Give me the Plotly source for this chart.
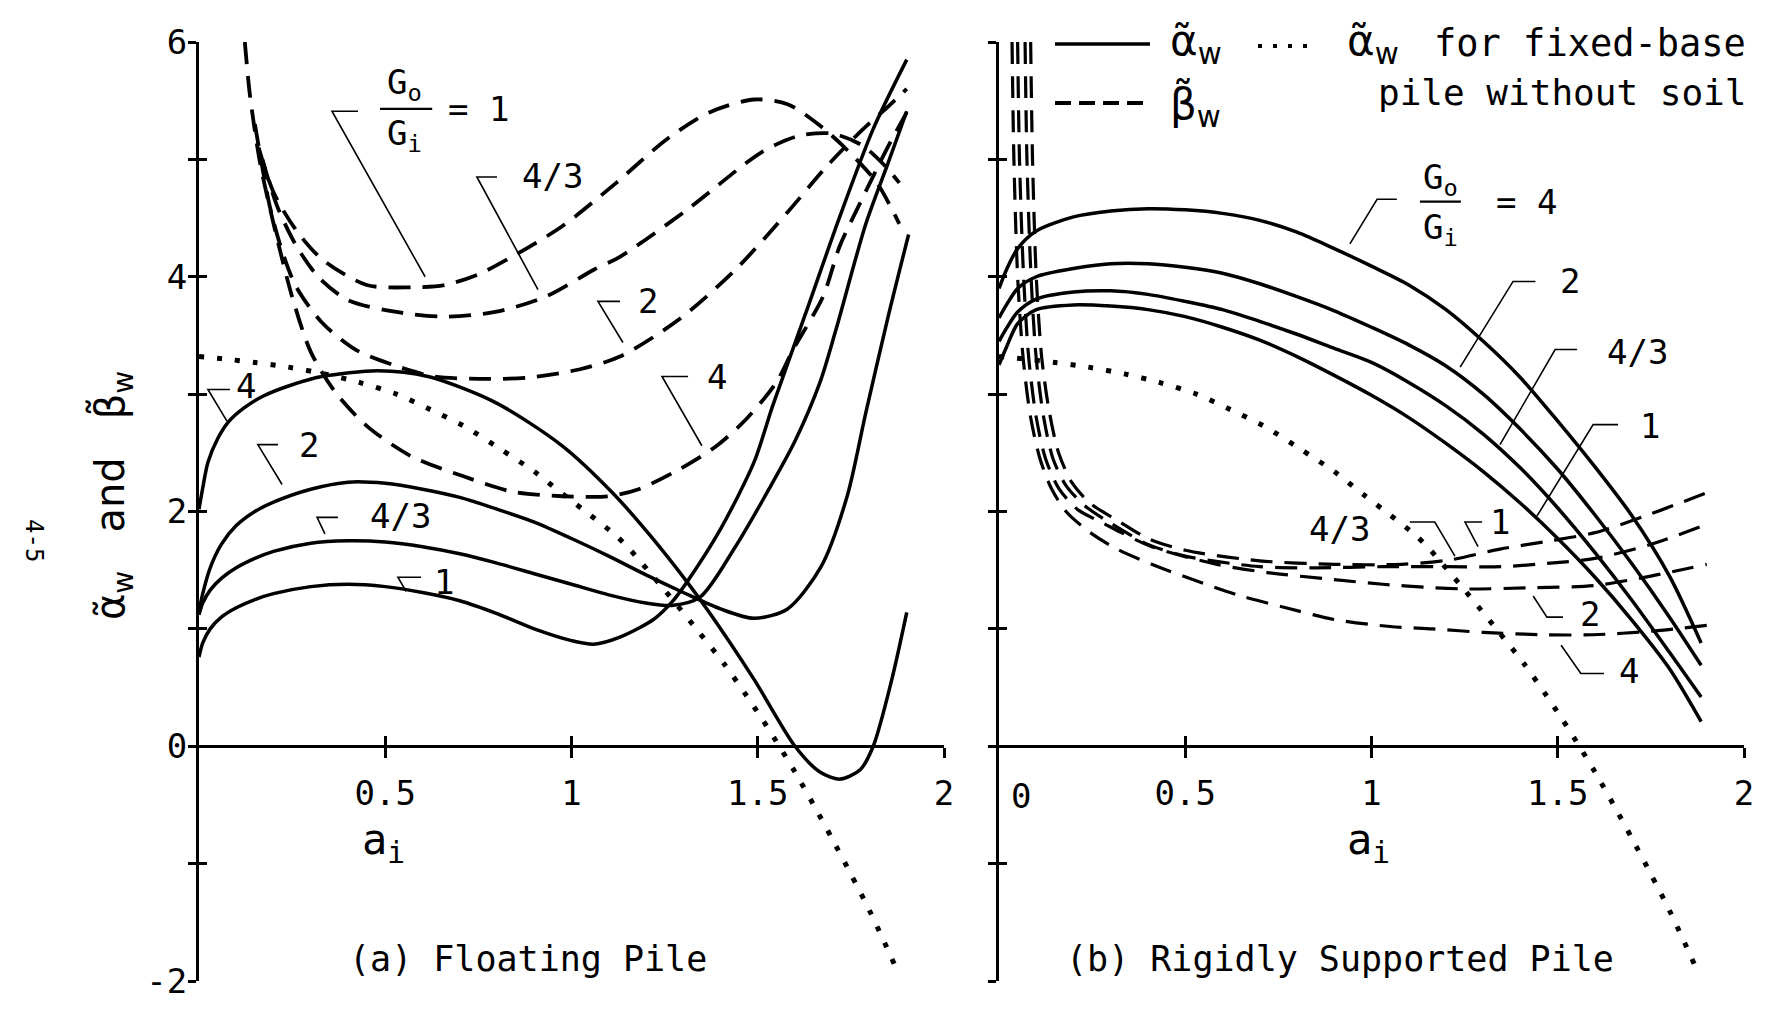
import plotly.graph_objects as go

# ---------------- data ----------------
# (a) Floating pile: stiffness alpha_w for G0/Gi = 1, 4/3, 2, 4
fa1_x = [0, 0.01, 0.03, 0.06, 0.1, 0.15, 0.2, 0.3, 0.4, 0.5, 0.6, 0.7, 0.8, 0.9, 1.0, 1.06, 1.13, 1.22, 1.27, 1.31, 1.40, 1.49, 1.54, 1.63, 1.72, 1.81, 1.90]
fa1_y = [0.76, 0.88, 1.0, 1.1, 1.18, 1.25, 1.30, 1.36, 1.38, 1.36, 1.31, 1.24, 1.13, 1.0, 0.90, 0.87, 0.93, 1.08, 1.23, 1.40, 1.85, 2.42, 2.90, 3.70, 4.51, 5.26, 5.85]
fa43_x = [0, 0.01, 0.03, 0.06, 0.1, 0.15, 0.2, 0.3, 0.4, 0.5, 0.6, 0.7, 0.8, 0.9, 1.0, 1.1, 1.2, 1.27, 1.345, 1.44, 1.53, 1.60, 1.667, 1.71, 1.79, 1.85, 1.90]
fa43_y = [1.12, 1.22, 1.33, 1.43, 1.52, 1.60, 1.66, 1.73, 1.75, 1.74, 1.70, 1.64, 1.56, 1.47, 1.38, 1.29, 1.22, 1.20, 1.27, 1.70, 2.19, 2.60, 3.10, 3.55, 4.45, 4.97, 5.41]
fa2_x = [0, 0.01, 0.03, 0.06, 0.1, 0.15, 0.2, 0.3, 0.4, 0.5, 0.6, 0.7, 0.8, 0.9, 1.0, 1.1, 1.2, 1.3, 1.4, 1.49, 1.58, 1.67, 1.74, 1.79, 1.85, 1.905]
fa2_y = [1.15, 1.30, 1.52, 1.72, 1.88, 2.00, 2.08, 2.19, 2.25, 2.24, 2.19, 2.12, 2.02, 1.91, 1.77, 1.62, 1.46, 1.31, 1.17, 1.09, 1.17, 1.53, 2.13, 2.84, 3.66, 4.36]
fa4_x = [0, 0.01, 0.024, 0.05, 0.078, 0.12, 0.17, 0.25, 0.33, 0.48, 0.615, 0.795, 0.975, 1.11, 1.21, 1.31, 1.37, 1.49, 1.60, 1.667, 1.72, 1.775, 1.81, 1.86, 1.90]
fa4_y = [2.02, 2.20, 2.42, 2.62, 2.76, 2.88, 2.98, 3.08, 3.15, 3.20, 3.15, 2.93, 2.56, 2.16, 1.80, 1.40, 1.14, 0.57, 0.0, -0.22, -0.28, -0.20, 0.0, 0.57, 1.14]

# (a) Floating pile: damping beta_w
fb1_x = [0.16, 0.2, 0.26, 0.33, 0.45, 0.57, 0.66, 0.75, 0.84, 0.975, 1.12, 1.255, 1.37, 1.49, 1.58, 1.67, 1.74, 1.82, 1.88]
fb1_y = [5.10, 4.72, 4.40, 4.15, 3.93, 3.91, 3.93, 4.02, 4.17, 4.43, 4.80, 5.17, 5.40, 5.51, 5.47, 5.28, 5.08, 4.80, 4.45]
fb43_x = [0.17, 0.21, 0.26, 0.32, 0.40, 0.53, 0.66, 0.795, 0.93, 1.06, 1.13, 1.31, 1.51, 1.61, 1.70, 1.78, 1.84, 1.88]
fb43_y = [5.00, 4.60, 4.27, 4.00, 3.80, 3.70, 3.66, 3.70, 3.83, 4.06, 4.17, 4.57, 5.06, 5.20, 5.22, 5.12, 4.95, 4.80]
fb2_x = [0.15, 0.19, 0.22, 0.26, 0.33, 0.42, 0.53, 0.63, 0.75, 0.88, 1.02, 1.13, 1.29, 1.44, 1.58, 1.685, 1.78, 1.85, 1.90]
fb2_y = [5.30, 4.60, 4.25, 3.92, 3.61, 3.38, 3.24, 3.15, 3.13, 3.14, 3.21, 3.32, 3.64, 4.06, 4.55, 4.94, 5.25, 5.45, 5.60]
fb4_x = [0.123, 0.137, 0.164, 0.204, 0.25, 0.30, 0.365, 0.45, 0.57, 0.71, 0.84, 0.975, 1.10, 1.18, 1.29, 1.39, 1.47, 1.55, 1.595, 1.675, 1.72, 1.775, 1.85, 1.90]
fb4_y = [6.0, 5.54, 4.97, 4.40, 3.83, 3.36, 3.02, 2.73, 2.47, 2.30, 2.17, 2.13, 2.13, 2.19, 2.36, 2.56, 2.79, 3.10, 3.38, 3.83, 4.26, 4.63, 5.11, 5.40]

# (b) Rigidly supported pile: stiffness alpha_w
r_ax = [0, 0.02, 0.05, 0.1, 0.2, 0.3, 0.4, 0.5, 0.6, 0.7, 0.8, 0.9, 1.0, 1.1, 1.2, 1.3, 1.4, 1.5, 1.6, 1.7, 1.8, 1.885]
ra1_y = [3.25, 3.40, 3.60, 3.72, 3.76, 3.75, 3.72, 3.66, 3.57, 3.46, 3.32, 3.16, 2.99, 2.80, 2.58, 2.34, 2.07, 1.77, 1.44, 1.07, 0.66, 0.21]
ra43_y = [3.45, 3.56, 3.70, 3.81, 3.87, 3.88, 3.85, 3.79, 3.72, 3.62, 3.51, 3.39, 3.27, 3.10, 2.90, 2.66, 2.37, 2.03, 1.65, 1.24, 0.80, 0.42]
ra2_y = [3.65, 3.76, 3.90, 4.00, 4.07, 4.11, 4.11, 4.08, 4.03, 3.94, 3.83, 3.71, 3.57, 3.42, 3.24, 3.00, 2.70, 2.36, 1.97, 1.55, 1.10, 0.69]
ra4_y = [3.90, 4.06, 4.24, 4.39, 4.51, 4.56, 4.58, 4.57, 4.54, 4.48, 4.38, 4.24, 4.09, 3.93, 3.72, 3.45, 3.14, 2.77, 2.38, 1.96, 1.45, 0.88]

# (b) Rigidly supported pile: damping beta_w
rb1_x = [0.085, 0.09, 0.10, 0.115, 0.135, 0.16, 0.195, 0.245, 0.32, 0.4, 0.5, 0.7, 0.9, 1.08, 1.215, 1.345, 1.48, 1.60, 1.75, 1.9]
rb1_y = [6.0, 5.0, 4.0, 3.3, 2.85, 2.5, 2.25, 2.07, 1.92, 1.77, 1.67, 1.58, 1.55, 1.55, 1.59, 1.68, 1.75, 1.82, 1.98, 2.16]
rb43_x = [0.07, 0.075, 0.086, 0.10, 0.12, 0.145, 0.18, 0.23, 0.3, 0.4, 0.5, 0.7, 0.85, 1.03, 1.2, 1.35, 1.48, 1.60, 1.75, 1.9]
rb43_y = [6.0, 5.0, 4.0, 3.3, 2.8, 2.45, 2.22, 2.05, 1.9, 1.72, 1.62, 1.53, 1.52, 1.53, 1.53, 1.53, 1.56, 1.60, 1.72, 1.89]
rb2_x = [0.05, 0.055, 0.066, 0.08, 0.10, 0.125, 0.16, 0.21, 0.28, 0.41, 0.585, 0.72, 0.90, 1.03, 1.17, 1.26, 1.43, 1.60, 1.75, 1.9]
rb2_y = [6.0, 5.0, 4.0, 3.3, 2.8, 2.45, 2.2, 2.02, 1.9, 1.70, 1.55, 1.48, 1.42, 1.38, 1.35, 1.34, 1.35, 1.37, 1.45, 1.55]
rb4_x = [0.035, 0.04, 0.05, 0.065, 0.085, 0.11, 0.14, 0.18, 0.245, 0.317, 0.41, 0.52, 0.65, 0.77, 0.90, 1.05, 1.165, 1.30, 1.46, 1.595, 1.75, 1.9]
rb4_y = [6.0, 5.0, 4.0, 3.3, 2.8, 2.45, 2.2, 2.0, 1.82, 1.68, 1.55, 1.42, 1.28, 1.18, 1.08, 1.02, 1.00, 0.97, 0.95, 0.95, 0.98, 1.03]

# alpha_w of the fixed-base pile without soil (same in both panels)
fixed_x = [0, 0.065, 0.15, 0.24, 0.34, 0.43, 0.53, 0.62, 0.71, 0.81, 0.90, 0.98, 1.05, 1.11, 1.15, 1.25, 1.33, 1.41, 1.47, 1.51, 1.55, 1.60, 1.65, 1.70, 1.75, 1.80, 1.84, 1.88]
fixed_y = [3.32, 3.30, 3.27, 3.23, 3.17, 3.10, 3.00, 2.87, 2.73, 2.53, 2.34, 2.14, 1.97, 1.82, 1.70, 1.33, 1.02, 0.70, 0.43, 0.24, 0.04, -0.22, -0.50, -0.79, -1.09, -1.40, -1.67, -1.95]

x_tickvals = [0.5, 1, 1.5, 2]
x_ticktext = ["0.5", "1", "1.5", "2"]
y_tickvals = [-2, -1, 0, 1, 2, 3, 4, 5, 6]
y_ticktext = ["-2", "", "0", "", "2", "", "4", "", "6"]

# ---------------- styling ----------------
W, H = 1769, 1012
FONT = "DejaVu Sans Mono"
GREEK = "DejaVu Sans"
INK = "black"
SOLID_W = 3.5
DASH = "22px,12px"
DOT = "5px,13px"

# plotting area in pixels
ya_top, ya_bot = 42, 981
xa_l0, xa_l1 = 199, 944
xb_l0, xb_l1 = 999, 1744
ydom = [(H - ya_bot) / H, (H - ya_top) / H]
xdom_a = [xa_l0 / W, xa_l1 / W]
xdom_b = [xb_l0 / W, xb_l1 / W]
yrange = [-2, 6]
xrange_ = [0, 2]
zero_pos = ydom[0] + (0 - yrange[0]) / (yrange[1] - yrange[0]) * (ydom[1] - ydom[0])

fig = go.Figure()


def curve(x, y, xa, ya, style, width=None):
    line = dict(color=INK, shape="spline", smoothing=0.8)
    if style == "solid":
        line.update(width=width or SOLID_W)
    elif style == "dash":
        line.update(width=width or 3.8, dash=DASH)
    else:
        line.update(width=width or 5, dash=DOT)
    fig.add_trace(go.Scatter(x=x, y=y, mode="lines", line=line, xaxis=xa, yaxis=ya,
                             showlegend=False, hoverinfo="skip"))


# panel (a)
for xs, ys in [(fa1_x, fa1_y), (fa43_x, fa43_y), (fa2_x, fa2_y), (fa4_x, fa4_y)]:
    curve(xs, ys, "x", "y", "solid")
for xs, ys in [(fb1_x, fb1_y), (fb43_x, fb43_y), (fb2_x, fb2_y), (fb4_x, fb4_y)]:
    curve(xs, ys, "x", "y", "dash")
curve(fixed_x, fixed_y, "x3", "y3", "dot")

# panel (b)
for ys in [ra1_y, ra43_y, ra2_y, ra4_y]:
    curve(r_ax, ys, "x2", "y2", "solid")
for xs, ys in [(rb1_x, rb1_y), (rb43_x, rb43_y), (rb2_x, rb2_y), (rb4_x, rb4_y)]:
    curve(xs, ys, "x2", "y2", "dash", width=3.2)
curve(fixed_x, fixed_y, "x4", "y4", "dot")

tickfont = dict(family=FONT, size=34, color=INK)


def xaxis_main(dom):
    return dict(domain=dom, range=xrange_, anchor="free", position=zero_pos, automargin=False,
                showline=True, linewidth=3, linecolor=INK, showgrid=False, zeroline=False,
                ticks="outside", ticklen=10, tickwidth=2.5, tickcolor=INK,
                tickvals=x_tickvals, ticktext=x_ticktext, tickfont=tickfont,
                ticklabelstandoff=6, fixedrange=True)


def xaxis_over(over):
    return dict(overlaying=over, range=xrange_, anchor="free", position=zero_pos, automargin=False,
                showline=False, showgrid=False, zeroline=False,
                ticks="inside", ticklen=10, tickwidth=2.5, tickcolor=INK,
                tickvals=x_tickvals, showticklabels=False, fixedrange=True)


def yaxis_main(anchor, labels):
    return dict(domain=ydom, range=yrange, anchor=anchor, automargin=False,
                showline=True, linewidth=3, linecolor=INK, showgrid=False, zeroline=False,
                ticks="outside", ticklen=8, tickwidth=2.5, tickcolor=INK,
                tickvals=y_tickvals, ticktext=y_ticktext, tickfont=tickfont,
                ticklabelstandoff=-6, showticklabels=labels, fixedrange=True)


def yaxis_over(over, anchor):
    return dict(overlaying=over, range=yrange, anchor=anchor, automargin=False,
                showline=False, showgrid=False, zeroline=False,
                ticks="inside", ticklen=8, tickwidth=2.5, tickcolor=INK,
                tickvals=y_tickvals, showticklabels=False, fixedrange=True)


fig.update_layout(
    width=W, height=H, autosize=False,
    margin=dict(l=0, r=0, t=0, b=0, pad=0, autoexpand=False),
    paper_bgcolor="white", plot_bgcolor="rgba(0,0,0,0)",
    showlegend=False,
    xaxis=xaxis_main(xdom_a), yaxis=yaxis_main("x", True),
    xaxis2=xaxis_main(xdom_b), yaxis2=yaxis_main("x2", False),
    xaxis3=xaxis_over("x"), yaxis3=yaxis_over("y", "x3"),
    xaxis4=xaxis_over("x2"), yaxis4=yaxis_over("y2", "x4"),
)

annotations = []
shapes = []


def text(t, x, y, xref, yref, size=34, family=FONT, **kw):
    d = dict(text=t, x=x, y=y, xref=xref, yref=yref, showarrow=False,
             font=dict(family=family, size=size, color=INK), xanchor="center", yanchor="middle")
    d.update(kw)
    annotations.append(d)


def leader(pts, xref, yref, width=1.6):
    path = "M " + " L ".join(f"{px},{py}" for px, py in pts)
    shapes.append(dict(type="path", path=path, xref=xref, yref=yref,
                       line=dict(color=INK, width=width)))


# curve labels, panel (a)
text("G<sub>o</sub>", 0.553, 5.64, "x", "y")
text("G<sub>i</sub>", 0.553, 5.20, "x", "y")
shapes.append(dict(type="line", x0=0.486, x1=0.626, y0=5.43, y1=5.43, xref="x", yref="y",
                   line=dict(color=INK, width=2.2)))
text("= 1", 0.749, 5.43, "x", "y")
leader([(0.427, 5.41), (0.357, 5.41), (0.607, 4.0)], "x", "y")
text("4/3", 0.948, 4.86, "x", "y")
leader([(0.80, 4.85), (0.746, 4.85), (0.91, 3.89)], "x", "y")
text("2", 1.205, 3.79, "x", "y")
leader([(1.13, 3.79), (1.071, 3.79), (1.138, 3.44)], "x", "y")
text("4", 1.39, 3.15, "x", "y")
leader([(1.313, 3.15), (1.243, 3.15), (1.35, 2.56)], "x", "y")
text("4", 0.126, 3.07, "x", "y")
leader([(0.083, 3.04), (0.024, 3.04), (0.075, 2.77)], "x", "y")
text("2", 0.295, 2.57, "x", "y")
leader([(0.212, 2.57), (0.158, 2.57), (0.223, 2.23)], "x", "y")
text("4/3", 0.542, 1.96, "x", "y")
leader([(0.373, 1.95), (0.317, 1.95), (0.338, 1.81)], "x", "y")
text("1", 0.657, 1.40, "x", "y")
leader([(0.596, 1.44), (0.534, 1.44), (0.556, 1.32)], "x", "y")

# curve labels, panel (b)
text("G<sub>o</sub>", 1.184, 4.83, "x2", "y2")
text("G<sub>i</sub>", 1.184, 4.40, "x2", "y2")
shapes.append(dict(type="line", x0=1.13, x1=1.24, y0=4.64, y1=4.64, xref="x2", yref="y2",
                   line=dict(color=INK, width=2.2)))
text("= 4", 1.417, 4.64, "x2", "y2")
leader([(1.068, 4.66), (1.015, 4.66), (0.942, 4.28)], "x2", "y2")
text("2", 1.533, 3.96, "x2", "y2")
leader([(1.44, 3.96), (1.38, 3.96), (1.238, 3.23)], "x2", "y2")
text("4/3", 1.713, 3.36, "x2", "y2")
leader([(1.552, 3.38), (1.493, 3.38), (1.345, 2.57)], "x2", "y2")
text("1", 1.748, 2.73, "x2", "y2")
leader([(1.662, 2.74), (1.595, 2.74), (1.444, 1.96)], "x2", "y2")
text("4/3", 0.915, 1.85, "x2", "y2")
leader([(1.103, 1.91), (1.17, 1.91), (1.224, 1.62)], "x2", "y2")
text("1", 1.345, 1.91, "x2", "y2")
leader([(1.297, 1.91), (1.251, 1.91), (1.286, 1.70)], "x2", "y2")
text("2", 1.587, 1.13, "x2", "y2")
leader([(1.434, 1.28), (1.471, 1.10), (1.514, 1.10)], "x2", "y2")
text("4", 1.69, 0.64, "x2", "y2")
leader([(1.509, 0.86), (1.562, 0.62), (1.624, 0.62)], "x2", "y2")

# "0" of the right-hand frequency axis sits just right of the vertical axis
text("0", 0.059, -0.42, "x2", "y2")

# axis titles and panel captions
text("a<sub>i</sub>", 383 / W, (H - 842) / H, "paper", "paper", size=42)
text("a<sub>i</sub>", 1368 / W, (H - 842) / H, "paper", "paper", size=42)
text("(a) Floating Pile", 528 / W, (H - 959) / H, "paper", "paper", size=35)
text("(b) Rigidly Supported Pile", 1340 / W, (H - 959) / H, "paper", "paper", size=35)
text("\u03b1\u0303<sub>w</sub>   and   \u03b2\u0303<sub>w</sub>", 113 / W, (H - 496) / H,
     "paper", "paper", size=40, family=GREEK, textangle=-90)
text("4-5", 34 / W, (H - 540) / H, "paper", "paper", size=24, textangle=90)

# key
shapes.append(dict(type="line", x0=1055 / W, x1=1150 / W, y0=(H - 44) / H, y1=(H - 44) / H,
                   xref="paper", yref="paper", line=dict(color=INK, width=SOLID_W)))
text("\u03b1\u0303<sub>w</sub>", 1168 / W, (H - 44) / H, "paper", "paper", size=42,
     family=GREEK, xanchor="left")
shapes.append(dict(type="line", x0=1055 / W, x1=1150 / W, y0=(H - 103) / H, y1=(H - 103) / H,
                   xref="paper", yref="paper", line=dict(color=INK, width=3.8, dash="16px,8px")))
text("\u03b2\u0303<sub>w</sub>", 1168 / W, (H - 106) / H, "paper", "paper", size=42,
     family=GREEK, xanchor="left")
shapes.append(dict(type="line", x0=1258 / W, x1=1318 / W, y0=(H - 46) / H, y1=(H - 46) / H,
                   xref="paper", yref="paper", line=dict(color=INK, width=4, dash="4px,11px")))
text("\u03b1\u0303<sub>w</sub>", 1345 / W, (H - 44) / H, "paper", "paper", size=42,
     family=GREEK, xanchor="left")
text("for fixed-base", 1748 / W, (H - 44) / H, "paper", "paper", size=37, xanchor="right")
text("pile without soil", 1748 / W, (H - 92) / H, "paper", "paper", size=36, xanchor="right")

fig.update_layout(annotations=annotations, shapes=shapes)
fig.write_html("out.html")
